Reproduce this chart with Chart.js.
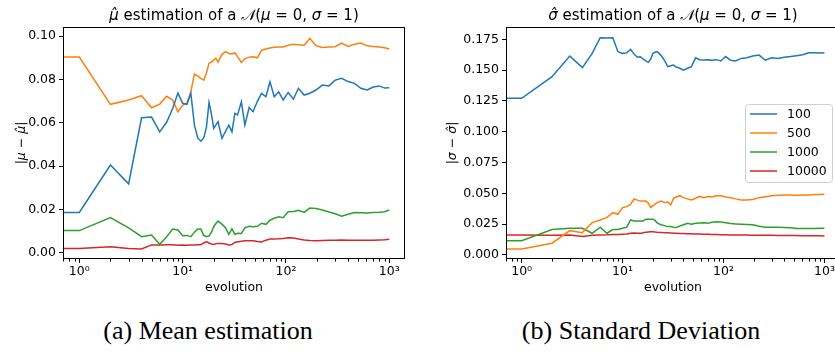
<!DOCTYPE html>
<html>
<head>
<meta charset="utf-8">
<script src="https://cdn.jsdelivr.net/npm/chart.js@4.4.0/dist/chart.umd.min.js"></script>
<style>
  html, body { margin: 0; padding: 0; background: #fff; }
  body { width: 835px; height: 356px; position: relative; overflow: hidden; }
  canvas { position: absolute; top: 0; }
  #muChart { left: 0; }
  #sigmaChart { left: 420px; }
  .caption {
    position: absolute; top: 316px; width: 320px;
    font-family: "Liberation Serif", serif; font-size: 26px; line-height: 30px;
    text-align: center; color: #000;
  }
</style>
</head>
<body>
<canvas id="muChart" width="420" height="300"></canvas>
<canvas id="sigmaChart" width="430" height="300"></canvas>
<div class="caption" style="left:48px">(a) Mean estimation</div>
<div class="caption" style="left:481px">(b) Standard Deviation</div>
<script>
// ----------------------------
// DATA
// ----------------------------
const steps = [0, 1, 2, 3, 4, 5, 6, 7, 8, 9, 10, 11,
  12, 13, 14, 15, 16, 17, 18, 19, 20, 21, 22,
  24, 26, 28, 30, 32, 34, 37, 40, 44, 48, 53, 58, 64, 70, 77, 85, 94,
  105, 118, 132, 150, 170, 195, 225, 260, 300, 345, 400, 460, 530, 610, 700, 800, 900, 1000];

const seriesNames = ["100", "500", "1000", "10000"];

// |mu - mu_hat|
const mu100 = [.0186, .0186, .0405, .0318, .0623, .0626, .0558, .0602, .0666, .0737, .0690, .0685,
  .0736, .0589, .0530, .0515, .0530, .0580, .0694, .0640, .0574, .0590, .0605,
  .0528, .0560, .0589, .0558, .0643, .0636, .0697, .0589, .0670, .0651, .0700, .0736, .0720, .0789, .0720, .0743, .0705,
  .0740, .0709, .0759, .0728, .0736, .0751, .0774, .0770, .0797, .0805, .0790, .0782, .0759, .0751, .0765, .0770, .0760, .0762];
const mu500 = [.0903, .0903, .0685, .0705, .0725, .0669, .0686, .0722, .0705, .0651, .0680, .0690,
  .0743, .0825, .0815, .0805, .0797, .0830, .0875, .0880, .0890, .0897, .0880,
  .0916, .0928, .0920, .0918, .0922, .0905, .0878, .0895, .0903, .0905, .0900, .0935, .0940, .0945, .0948, .0950, .0950,
  .0958, .0962, .0960, .0958, .0989, .0956, .0947, .0950, .0951, .0968, .0952, .0962, .0968, .0955, .0952, .0950, .0946, .0940];
const mu1000 = [.0102, .0102, .0162, .0115, .0074, .0082, .0039, .0074, .0109, .0105, .0078, .0080,
  .0074, .0095, .0109, .0109, .0080, .0074, .0078, .0095, .0120, .0135, .0146,
  .0132, .0115, .0085, .0110, .0085, .0090, .0089, .0115, .0122, .0120, .0122, .0136, .0131, .0150, .0159, .0166, .0162,
  .0189, .0190, .0196, .0186, .0206, .0204, .0197, .0188, .0180, .0169, .0178, .0186, .0185, .0183, .0186, .0187, .0189, .0197];
const mu10000 = [.0020, .0020, .0028, .0019, .0017, .0036, .0036, .0037, .0037, .0035, .0036, .0035,
  .0036, .0036, .0037, .0037, .0045, .0051, .0045, .0040, .0038, .0042, .0043,
  .0042, .0040, .0036, .0038, .0048, .0050, .0053, .0055, .0055, .0055, .0052, .0050, .0058, .0063, .0063, .0064, .0066,
  .0069, .0068, .0063, .0059, .0056, .0055, .0056, .0057, .0058, .0059, .0058, .0058, .0057, .0058, .0058, .0059, .0060, .0062];

// |sigma - sigma_hat|
const sigma100 = [.1271, .1271, .1447, .1614, .1520, .1636, .1763, .1761, .1763, .1650, .1636, .1640,
  .1669, .1630, .1604, .1609, .1590, .1575, .1563, .1590, .1636, .1645, .1650,
  .1620, .1580, .1528, .1535, .1541, .1525, .1515, .1500, .1515, .1528, .1600, .1585, .1582, .1585, .1580, .1585, .1574,
  .1610, .1580, .1575, .1595, .1600, .1615, .1622, .1580, .1600, .1595, .1605, .1610, .1617, .1625, .1641, .1640, .1638, .1641];
const sigma500 = [.0049, .0049, .0095, .0197, .0181, .0262, .0284, .0305, .0343, .0330, .0384, .0392,
  .0410, .0454, .0445, .0437, .0437, .0437, .0420, .0384, .0400, .0412, .0425,
  .0437, .0425, .0430, .0406, .0460, .0470, .0481, .0465, .0455, .0446, .0460, .0475, .0465, .0475, .0470, .0481, .0481,
  .0470, .0465, .0455, .0446, .0446, .0450, .0465, .0473, .0481, .0485, .0487, .0487, .0484, .0486, .0487, .0490, .0491, .0492];
const sigma1000 = [.0116, .0116, .0206, .0216, .0216, .0176, .0225, .0176, .0206, .0206, .0216, .0225,
  .0284, .0276, .0276, .0276, .0276, .0290, .0290, .0290, .0290, .0280, .0260,
  .0245, .0238, .0230, .0230, .0225, .0222, .0235, .0245, .0257, .0250, .0257, .0260, .0262, .0257, .0265, .0270, .0268,
  .0262, .0255, .0252, .0249, .0247, .0245, .0232, .0225, .0225, .0224, .0222, .0220, .0215, .0214, .0215, .0215, .0216, .0217];
const sigma10000 = [.0162, .0162, .0160, .0162, .0149, .0160, .0162, .0163, .0165, .0165, .0168, .0170,
  .0176, .0178, .0176, .0175, .0180, .0185, .0187, .0189, .0189, .0186, .0184,
  .0182, .0180, .0180, .0178, .0176, .0175, .0174, .0173, .0172, .0171, .0170, .0170, .0168, .0167, .0166, .0165, .0164,
  .0163, .0162, .0162, .0162, .0161, .0160, .0160, .0160, .0159, .0158, .0158, .0157, .0157, .0156, .0156, .0155, .0155, .0154];

// ticks
const xTicks = [1, 10, 100, 1000];
const xTickLabels = ["10⁰", "10¹", "10²", "10³"];
const muTicks = [0, 0.02, 0.04, 0.06, 0.08, 0.10];
const sigmaTicks = [0, 0.025, 0.05, 0.075, 0.1, 0.125, 0.15, 0.175];

// ----------------------------
// STYLE
// ----------------------------
const colors = ["#1f77b4", "#ff7f0e", "#2ca02c", "#d62728"];
const FONT = "'DejaVu Sans', sans-serif";
const tickFont = { family: FONT, size: 12.5 };
const labelFont = { family: FONT, size: 12.5 };

// ----------------------------
// PLUGINS
// ----------------------------
// title with mixed italic / upright pieces, centred over the plot area
const mathTitle = {
  id: "mathTitle",
  afterDraw(chart, args, opts) {
    const ctx = chart.ctx, a = chart.chartArea;
    ctx.save();
    ctx.fillStyle = "#000";
    ctx.textBaseline = "alphabetic";
    let total = 0;
    opts.parts.forEach(p => { ctx.font = p.font; total += ctx.measureText(p.text).width; });
    let x = (a.left + a.right) / 2 - total / 2;
    opts.parts.forEach(p => {
      ctx.font = p.font;
      ctx.fillText(p.text, x, opts.y);
      x += ctx.measureText(p.text).width;
    });
    ctx.restore();
  }
};

// full box + minor log ticks like matplotlib
const frame = {
  id: "frame",
  afterDraw(chart) {
    const { ctx, chartArea: a, scales: { x } } = chart;
    ctx.save();
    ctx.strokeStyle = "#000";
    ctx.lineWidth = 1;
    ctx.beginPath();
    for (let k = -1; k <= 3; k++) {
      for (let m = 2; m <= 9; m++) {
        const v = m * Math.pow(10, k);
        if (v < x.min || v > x.max) continue;
        const px = Math.round(x.getPixelForValue(v)) + 0.5;
        ctx.moveTo(px, Math.round(a.bottom));
        ctx.lineTo(px, Math.round(a.bottom) + 2.5);
      }
    }
    ctx.stroke();
    ctx.strokeRect(Math.round(a.left) + 0.5, Math.round(a.top) + 0.5,
      Math.round(a.right - a.left) - 1, Math.round(a.bottom - a.top) - 1);
    ctx.restore();
  }
};

// legend box inside the axes (centre right)
const boxLegend = {
  id: "boxLegend",
  afterDraw(chart, args, opts) {
    const { ctx, chartArea: a } = chart;
    const sets = chart.data.datasets;
    const rowH = 19, w = 87, h = sets.length * rowH + 2;
    const x0 = a.right - 8 - w;
    const y0 = (a.top + a.bottom) / 2 - h / 2;
    ctx.save();
    ctx.fillStyle = "rgba(255,255,255,0.8)";
    ctx.strokeStyle = "#d0d0d0";
    ctx.lineWidth = 1;
    ctx.beginPath();
    ctx.roundRect(Math.round(x0) + 0.5, Math.round(y0) + 0.5, w, h, 3);
    ctx.fill();
    ctx.stroke();
    ctx.font = "12.5px " + FONT;
    ctx.textBaseline = "middle";
    sets.forEach((ds, i) => {
      const cy = y0 + 10 + i * rowH;
      ctx.strokeStyle = ds.borderColor;
      ctx.lineWidth = 1.5;
      ctx.beginPath();
      ctx.moveTo(x0 + 5, cy);
      ctx.lineTo(x0 + 32, cy);
      ctx.stroke();
      ctx.fillStyle = "#000";
      ctx.fillText(ds.label, x0 + 42, cy + 1);
    });
    ctx.restore();
  }
};

// ----------------------------
// CHART BUILDER
// ----------------------------
function makeChart(canvasId, seriesList, cfg) {
  const datasets = seriesList.map((vals, i) => ({
    label: seriesNames[i],
    data: steps.map((s, j) => ({ x: s, y: vals[j] })),
    borderColor: colors[i],
    borderWidth: 1.5,
    pointRadius: 0,
    tension: 0
  }));

  return new Chart(document.getElementById(canvasId), {
    type: "line",
    data: { datasets },
    plugins: cfg.plugins,
    options: {
      responsive: false,
      animation: false,
      events: [],
      layout: { padding: { top: 27, right: cfg.padRight, bottom: 0, left: 0 } },
      plugins: {
        legend: { display: false },
        tooltip: { enabled: false },
        mathTitle: { parts: cfg.titleParts, y: 20 }
      },
      scales: {
        x: {
          type: "logarithmic",
          min: cfg.xMin,
          max: cfg.xMax,
          afterBuildTicks: s => { s.ticks = xTicks.map(v => ({ value: v })); },
          afterFit: s => { s.height = 41; },
          ticks: {
            callback: v => xTickLabels[xTicks.indexOf(v)] || "",
            font: tickFont, color: "#000", padding: 1, maxRotation: 0, autoSkip: false
          },
          grid: { drawOnChartArea: false, tickLength: 4, tickColor: "#000" },
          border: { display: false },
          title: { display: true, text: "evolution", font: labelFont, color: "#000", padding: { top: 0, bottom: 5 } }
        },
        y: {
          type: "linear",
          min: cfg.yMin,
          max: cfg.yMax,
          afterBuildTicks: s => { s.ticks = cfg.yTicks.map(v => ({ value: v })); },
          afterFit: s => { s.width = cfg.yWidth; },
          ticks: {
            callback: v => v.toFixed(cfg.yDigits),
            font: tickFont, color: "#000", padding: 3
          },
          grid: { drawOnChartArea: false, tickLength: 4, tickColor: "#000" },
          border: { display: false },
          title: {
            display: true, text: cfg.yTitle,
            font: { family: FONT, size: 12.5, style: "italic" }, color: "#000",
            padding: { top: cfg.yTitlePad, bottom: 0 }
          }
        }
      }
    }
  });
}

// ----------------------------
// INITIALIZATION
// ----------------------------
const it = "italic 15px " + FONT, up = "15px " + FONT;

makeChart("muChart", [mu100, mu500, mu1000, mu10000], {
  plugins: [mathTitle, frame],
  padRight: 15, yWidth: 63, yTitlePad: 14,
  xMin: 0.695, xMax: 1419,
  yMin: -0.0029, yMax: 0.1042, yTicks: muTicks, yDigits: 2,
  yTitle: "|μ − μ̂|",
  titleParts: [
    { text: "μ̂", font: it }, { text: " estimation of a ", font: up },
    { text: "𝒩", font: it }, { text: "(", font: up }, { text: "μ", font: it },
    { text: " = 0, ", font: up }, { text: "σ", font: it }, { text: " = 1)", font: up }
  ]
});

makeChart("sigmaChart", [sigma100, sigma500, sigma1000, sigma10000], {
  plugins: [mathTitle, frame, boxLegend],
  padRight: 10, yWidth: 86, yTitlePad: 25,
  xMin: 0.74, xMax: 1426,
  yMin: -0.0033, yMax: 0.185, yTicks: sigmaTicks, yDigits: 3,
  yTitle: "|σ − σ̂|",
  titleParts: [
    { text: "σ̂", font: it }, { text: " estimation of a ", font: up },
    { text: "𝒩", font: it }, { text: "(", font: up }, { text: "μ", font: it },
    { text: " = 0, ", font: up }, { text: "σ", font: it }, { text: " = 1)", font: up }
  ]
});
</script>
</body>
</html>
